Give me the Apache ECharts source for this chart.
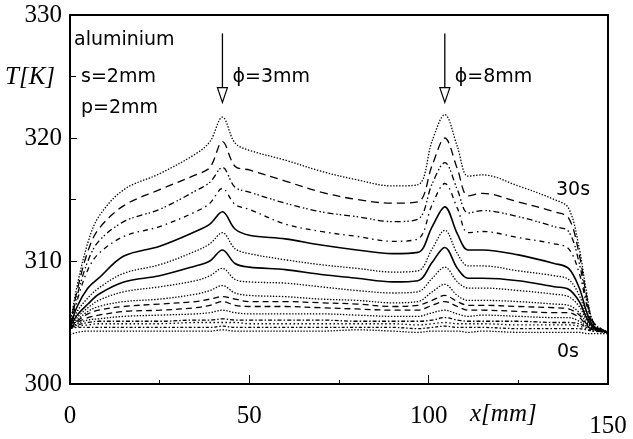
<!DOCTYPE html>
<html>
<head>
<meta charset="utf-8">
<title>aluminium T(x)</title>
<script src="https://cdn.jsdelivr.net/npm/echarts@6/dist/echarts.min.js"></script>
</head>
<body style="margin:0;background:#fff;">
<div id="main" style="width:633px;height:439px;"></div>
<script type="text/javascript">
// x positions along the sample (mm)
var xs = [0, 2, 5, 8, 15, 25, 35, 39, 42.5, 46, 50, 60, 70, 80, 90, 97, 101, 104.5, 108, 111, 115, 125, 135, 139, 142, 144, 146, 150];

// temperature profiles T[K], 30s down to 0s, every 2 s
var t30 = [304.8, 308.0, 311.5, 313.6, 315.8, 317.1, 318.7, 319.7, 321.7, 319.6, 319.0, 318.2, 317.3, 316.6, 316.1, 316.2, 319.8, 321.9, 319.3, 316.9, 317.0, 316.1, 315.0, 314.3, 311.0, 307.5, 305.0, 304.2];
var t28 = [304.7, 307.6, 310.8, 312.6, 314.5, 315.8, 317.0, 317.6, 319.7, 317.7, 317.4, 316.5, 315.6, 315.0, 314.7, 314.8, 317.8, 320.0, 317.5, 315.3, 315.5, 314.8, 314.0, 313.5, 310.5, 307.2, 305.0, 304.2];
var t26 = [304.7, 307.2, 310.0, 311.6, 313.2, 314.2, 315.7, 316.4, 317.6, 316.0, 315.6, 314.7, 314.0, 313.6, 313.2, 313.4, 316.3, 318.0, 315.8, 313.9, 314.1, 313.6, 312.8, 312.4, 309.8, 306.8, 304.9, 304.2];
var t24 = [304.6, 306.8, 309.3, 310.6, 312.0, 312.8, 314.0, 314.7, 315.9, 314.6, 314.2, 313.0, 312.4, 312.0, 311.6, 311.8, 314.6, 316.3, 314.3, 312.3, 312.4, 311.9, 311.4, 311.0, 309.0, 306.5, 304.8, 304.2];
var t22 = [304.6, 306.3, 307.8, 308.6, 310.4, 311.2, 312.4, 313.0, 314.0, 312.6, 312.1, 311.8, 311.3, 310.9, 310.6, 310.7, 312.8, 314.4, 312.2, 310.9, 310.9, 310.5, 309.8, 309.4, 307.8, 305.9, 304.7, 304.2];
var t20 = [304.6, 305.9, 307.0, 307.8, 309.0, 309.7, 310.8, 311.4, 312.3, 311.0, 310.6, 310.1, 309.7, 309.4, 309.1, 309.2, 311.0, 312.5, 310.6, 309.6, 309.6, 309.2, 308.8, 308.5, 307.2, 305.6, 304.6, 304.2];
var t18 = [304.6, 305.6, 306.5, 307.3, 308.3, 308.8, 309.6, 310.0, 310.9, 309.8, 309.5, 309.3, 308.9, 308.6, 308.3, 308.4, 309.9, 311.1, 309.4, 308.6, 308.6, 308.4, 307.9, 307.7, 306.7, 305.4, 304.6, 304.2];
var t16 = [304.5, 305.4, 306.2, 306.8, 307.5, 307.9, 308.4, 308.8, 309.4, 308.5, 308.3, 308.2, 307.9, 307.6, 307.4, 307.5, 308.6, 309.5, 308.3, 307.8, 307.8, 307.6, 307.3, 307.1, 306.3, 305.2, 304.5, 304.2];
var t14 = [304.5, 305.2, 305.9, 306.3, 306.7, 306.9, 307.3, 307.6, 308.0, 307.4, 307.2, 307.1, 306.9, 306.8, 306.6, 306.7, 307.5, 308.1, 307.2, 306.8, 306.8, 306.7, 306.5, 306.4, 305.8, 305.0, 304.5, 304.2];
var t12 = [304.5, 305.1, 305.7, 306.0, 306.3, 306.5, 306.7, 306.9, 307.1, 306.9, 306.7, 306.7, 306.6, 306.5, 306.3, 306.4, 306.8, 307.2, 306.7, 306.4, 306.4, 306.3, 306.2, 306.1, 305.6, 304.9, 304.5, 304.2];
var t10 = [304.5, 305.0, 305.4, 305.6, 305.9, 306.0, 306.2, 306.4, 306.7, 306.4, 306.3, 306.3, 306.2, 306.1, 306.0, 306.0, 306.4, 306.7, 306.3, 306.0, 306.0, 305.9, 305.8, 305.8, 305.4, 304.8, 304.4, 304.2];
var t8  = [304.5, 304.9, 305.2, 305.3, 305.5, 305.6, 305.7, 305.8, 306.0, 305.8, 305.7, 305.7, 305.7, 305.6, 305.5, 305.5, 305.8, 306.0, 305.7, 305.5, 305.6, 305.5, 305.4, 305.4, 305.1, 304.7, 304.4, 304.2];
var t6  = [304.5, 304.8, 305.0, 305.1, 305.1, 305.1, 305.2, 305.2, 305.3, 305.2, 305.2, 305.2, 305.2, 305.1, 305.1, 305.1, 305.2, 305.4, 305.2, 305.1, 305.1, 305.1, 305.0, 305.0, 304.9, 304.6, 304.4, 304.2];
var t4  = [304.5, 304.7, 304.8, 304.9, 304.9, 304.9, 305.0, 305.0, 305.0, 305.0, 304.9, 304.9, 304.9, 304.9, 304.9, 304.8, 304.9, 305.0, 304.9, 304.9, 304.9, 304.8, 304.8, 304.8, 304.7, 304.5, 304.3, 304.2];
var t2  = [304.5, 304.6, 304.6, 304.6, 304.6, 304.6, 304.6, 304.6, 304.7, 304.6, 304.6, 304.6, 304.6, 304.6, 304.6, 304.5, 304.6, 304.7, 304.6, 304.6, 304.6, 304.5, 304.5, 304.5, 304.5, 304.4, 304.3, 304.2];
var t0  = [304.0, 304.2, 304.3, 304.3, 304.3, 304.3, 304.3, 304.3, 304.4, 304.3, 304.3, 304.3, 304.3, 304.4, 304.3, 304.2, 304.3, 304.3, 304.3, 304.2, 304.3, 304.2, 304.2, 304.2, 304.2, 304.1, 304.1, 304.1];

var profiles = [t30, t28, t26, t24, t22, t20, t18, t16, t14, t12, t10, t8, t6, t4, t2, t0];
var names = ['30s', '28s', '26s', '24s', '22s', '20s', '18s', '16s', '14s', '12s', '10s', '8s', '6s', '4s', '2s', '0s'];

// line look of each curve (same order)
var dot = [1.4, 1.6];
var dashes = [
    dot, [8, 5], [6, 3, 1.5, 2, 1.5, 3], [5, 4, 1.5, 4], 'solid', dot, 'solid', dot,
    dot, [6, 4], [6, 4], dot, [4, 2, 1.5, 2], [1.5, 2.5], [3, 2, 1.5, 2], dot
];

var serif = '"Liberation Serif", "Times New Roman", serif';
var sans = '"DejaVu Sans", Arial, sans-serif';

var series = [];
for (var i = 0; i < profiles.length; i++) {
    var pts = [];
    for (var j = 0; j < xs.length; j++) pts.push([xs[j], profiles[i][j]]);
    var d = dashes[i];
    series.push({
        name: names[i],
        type: 'line',
        data: pts,
        showSymbol: false,
        smooth: 0.35,
        silent: true,
        lineStyle: {
            color: '#000',
            width: d === 'solid' ? 1.6 : 1.3,
            type: d
        }
    });
}

var chart = echarts.init(document.getElementById('main'));
chart.setOption({
    animation: false,
    grid: {left: 70, right: 25, top: 15, bottom: 55, show: true, borderColor: '#000', borderWidth: 2},
    xAxis: {
        type: 'value', min: 0, max: 150, interval: 50,
        axisLine: {show: true, onZero: false, lineStyle: {color: '#000', width: 2}},
        axisTick: {show: true, inside: true, length: 9, lineStyle: {color: '#000', width: 1}},
        minorTick: {show: true, splitNumber: 2, length: 4, lineStyle: {color: '#000', width: 1}},
        splitLine: {show: false},
        axisLabel: {
            margin: 20, color: '#000', fontSize: 25, fontFamily: serif,
            formatter: function (v) { return v === 150 ? '{b|150}' : String(v); },
            rich: {b: {fontSize: 25, fontFamily: serif, color: '#000', padding: [10, 0, 0, 0]}}
        }
    },
    yAxis: {
        type: 'value', min: 300, max: 330, interval: 10,
        axisLine: {show: true, lineStyle: {color: '#000', width: 2}},
        axisTick: {show: true, inside: true, length: 7, lineStyle: {color: '#000', width: 1}},
        minorTick: {show: true, splitNumber: 2, length: 6, lineStyle: {color: '#000', width: 1}},
        splitLine: {show: false},
        axisLabel: {margin: 8, color: '#000', fontSize: 25, fontFamily: serif}
    },
    series: series
});

// annotations: arrows at the two holes, texts
function px(x, y) { return chart.convertToPixel({gridIndex: 0}, [x, y]); }
var holes = [42.5, 104.5];
var holeLabels = ['\u03d5=3mm', '\u03d5=8mm'];
var graphic = [];
for (var k = 0; k < holes.length; k++) {
    var tail = px(holes[k], 328.5), head = px(holes[k], 324.1), tip = px(holes[k], 322.9);
    graphic.push({type: 'line', shape: {x1: tail[0], y1: tail[1], x2: head[0], y2: head[1]},
        style: {stroke: '#000', lineWidth: 1.3}});
    graphic.push({type: 'polygon', shape: {points: [[head[0] - 5, head[1]], [head[0] + 5, head[1]], [tip[0], tip[1]]]},
        style: {stroke: '#000', fill: '#fff', lineWidth: 1.2}});
    graphic.push({type: 'text', style: {text: holeLabels[k], x: tail[0] + 10, y: 77, font: '19px ' + sans,
        fill: '#000', verticalAlign: 'middle'}});
}
var notes = [
    ['aluminium', 74, 40], ['s=2mm', 81, 77], ['p=2mm', 81, 108], ['30s', 556, 190], ['0s', 557, 352]
];
for (var n = 0; n < notes.length; n++) {
    graphic.push({type: 'text', style: {text: notes[n][0], x: notes[n][1], y: notes[n][2],
        font: '19px ' + sans, fill: '#000', verticalAlign: 'middle'}});
}
graphic.push({type: 'text', style: {text: 'T[K]', x: 5, y: 77, font: 'italic 25px ' + serif, fill: '#000', verticalAlign: 'middle'}});
graphic.push({type: 'text', style: {text: 'x[mm]', x: 470, y: 414, font: 'italic 25px ' + serif, fill: '#000', verticalAlign: 'middle'}});
chart.setOption({graphic: graphic});
</script>
</body>
</html>
